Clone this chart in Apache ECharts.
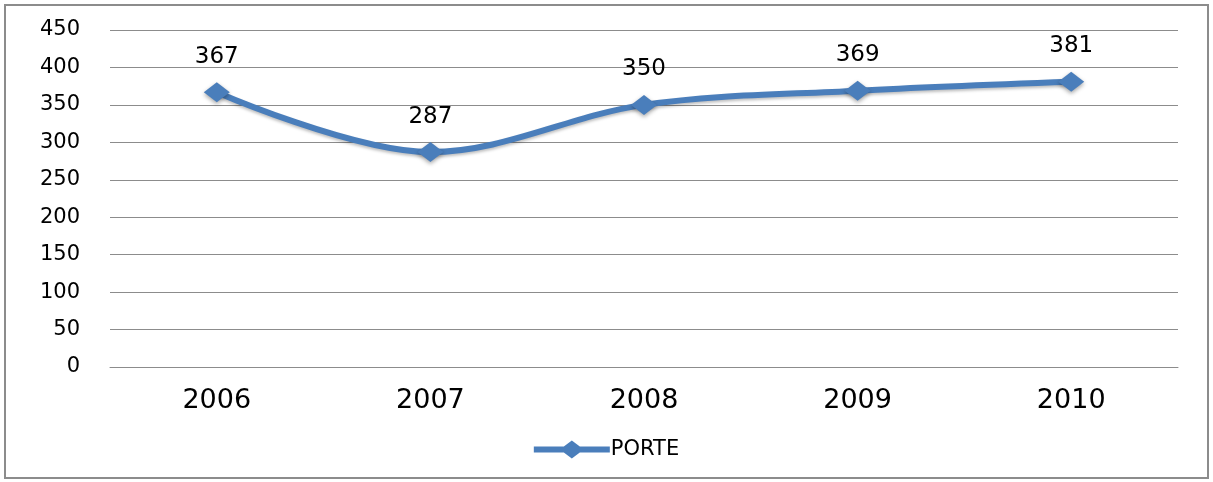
<!DOCTYPE html>
<html>
<head>
<meta charset="utf-8">
<script src="https://cdn.jsdelivr.net/npm/echarts@6/dist/echarts.min.js"></script>
<style>
  html, body { margin: 0; padding: 0; background: #fff; }
  #chart { width: 1213px; height: 482px; }
</style>
</head>
<body>
<div id="chart"></div>
<script>
const years = ['2006', '2007', '2008', '2009', '2010']
const porte = [367, 287, 350, 369, 381]
const yTicks = { min: 0, max: 450, interval: 50 }

const chart = echarts.init(document.getElementById('chart'))
const blue = '#4a7ebb'
const font = 'DejaVu Sans'

chart.setOption({
  backgroundColor: '#fff',
  animation: false,
  graphic: [{
    type: 'rect',
    shape: { x: 5, y: 5, width: 1203, height: 473 },
    style: { fill: 'none', stroke: '#8c8c8c', lineWidth: 2 },
    silent: true
  }],
  grid: { left: 110, right: 35, top: 30, bottom: 115 },
  legend: {
    bottom: 17,
    left: 'center',
    itemWidth: 76,
    itemHeight: 18,
    itemGap: 4,
    textStyle: { fontFamily: font, fontSize: 21, color: '#000', padding: [0, 0, 0, -4] },
    data: [{
      name: 'PORTE',
      icon: 'path://M0,6 L30,6 L38,0 L46,6 L76,6 L76,12 L46,12 L38,18 L30,12 L0,12 Z'
    }]
  },
  xAxis: {
    type: 'category',
    data: years,
    boundaryGap: true,
    axisLine: { show: true, lineStyle: { color: '#8c8c8c', width: 1 } },
    axisTick: { show: false },
    axisLabel: { fontFamily: font, fontSize: 27, color: '#000', margin: 20 }
  },
  yAxis: {
    type: 'value',
    min: yTicks.min,
    max: yTicks.max,
    interval: yTicks.interval,
    axisLine: { show: false },
    axisTick: { show: false },
    splitLine: { lineStyle: { color: '#8c8c8c', width: 1 } },
    axisLabel: { fontFamily: font, fontSize: 21, color: '#000', margin: 30 }
  },
  series: [{
    name: 'PORTE',
    type: 'line',
    data: porte,
    smooth: 0.35,
    symbol: 'diamond',
    symbolSize: [26, 20],
    itemStyle: { color: blue, shadowColor: 'rgba(0,0,0,0.35)', shadowBlur: 4, shadowOffsetY: 2 },
    lineStyle: { color: blue, width: 6, shadowColor: 'rgba(0,0,0,0.25)', shadowBlur: 3, shadowOffsetY: 2 },
    label: {
      show: true,
      position: 'top',
      distance: 14,
      fontFamily: font,
      fontSize: 23,
      color: '#000'
    }
  }]
})
</script>
</body>
</html>
